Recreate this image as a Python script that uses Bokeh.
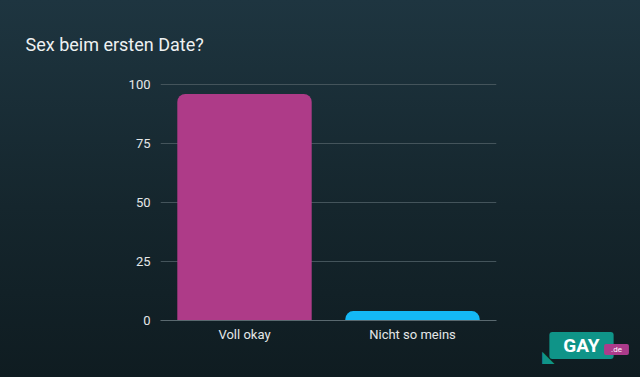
from bokeh.plotting import figure
from bokeh.models import ColumnDataSource, FactorRange, Range1d, FixedTicker, Label, GlobalInlineStyleSheet
from bokeh.embed import file_html
from bokeh.resources import INLINE

categories = ["Voll okay", "Nicht so meins"]
values = [96, 4]
colors = ["#ae3b88", "#14b8f5"]
y_ticks = [0, 25, 50, 75, 100]
title_text = "Sex beim ersten Date?"

W, H = 640, 377
FONT = "Roboto"

css = GlobalInlineStyleSheet(css="""
html { background: linear-gradient(180deg, #1e3540 0%, #15262d 55%, #0f1c21 100%); min-height: 100%; }
body { background: transparent; }
""")

p = figure(
    width=W, height=H,
    x_range=FactorRange(*categories, range_padding=0),
    y_range=Range1d(0, 100.45),
    output_backend="svg", toolbar_location=None,
    min_border_left=160, min_border_right=144,
    min_border_top=83, min_border_bottom=57,
    border_fill_color=None, background_fill_color=None,
    outline_line_color=None,
    stylesheets=[css],
)

src = ColumnDataSource(dict(cat=categories, val=values, color=colors))
p.vbar(x="cat", top="val", width=0.8, source=src, fill_color="color",
       line_color=None, border_radius=(8, 8, 0, 0))

p.title.text = title_text
p.title.align = "left"
p.title.offset = -135
p.title.standoff = 57
p.title.text_font = FONT
p.title.text_font_size = "18px"
p.title.text_font_style = "normal"
p.title.text_color = "#eef1f2"

p.yaxis.ticker = FixedTicker(ticks=y_ticks)
p.yaxis.axis_line_color = None
p.yaxis.major_tick_line_color = None
p.yaxis.minor_tick_line_color = None
p.yaxis.major_label_standoff = 4
p.yaxis.major_label_text_font = FONT
p.yaxis.major_label_text_font_size = "13px"
p.yaxis.major_label_text_color = "#e4e7e8"

p.xaxis.axis_line_color = "#5a696f"
p.xaxis.major_tick_line_color = None
p.xaxis.minor_tick_line_color = None
p.xaxis.major_label_standoff = 0
p.xaxis.major_label_text_font = FONT
p.xaxis.major_label_text_font_size = "13px"
p.xaxis.major_label_text_color = "#e4e7e8"

p.xgrid.grid_line_color = None
p.ygrid.grid_line_color = "#44545b"

# logo, placed in right side panels (not clipped to the frame)
TEAL = "#0f9488"
p.add_layout(Label(x=85, y=-25, x_units="screen", y_units="screen", text="GAY",
                   text_align="center", text_baseline="middle", text_font=FONT,
                   text_font_size="19px", text_font_style="bold", text_color="white",
                   background_fill_color=TEAL, border_radius=3,
                   padding=dict(left=14, right=14, top=2, bottom=2)), "right")
p.add_layout(Label(x=56, y=-29, x_units="screen", y_units="screen", text=".de",
                   text_align="center", text_baseline="middle", text_font=FONT,
                   text_font_size="8px", text_color="white",
                   background_fill_color="#ac3b8b", border_radius=2,
                   padding=dict(left=7, right=7, top=1, bottom=1)), "right")
p.add_layout(Label(x=-37, y=-36, x_units="screen", y_units="screen", text="◣",
                   text_align="center", text_baseline="middle", text_font="DejaVu Sans",
                   text_font_size="16px", text_color=TEAL), "right")

open("out.html", "w").write(file_html(p, INLINE))
